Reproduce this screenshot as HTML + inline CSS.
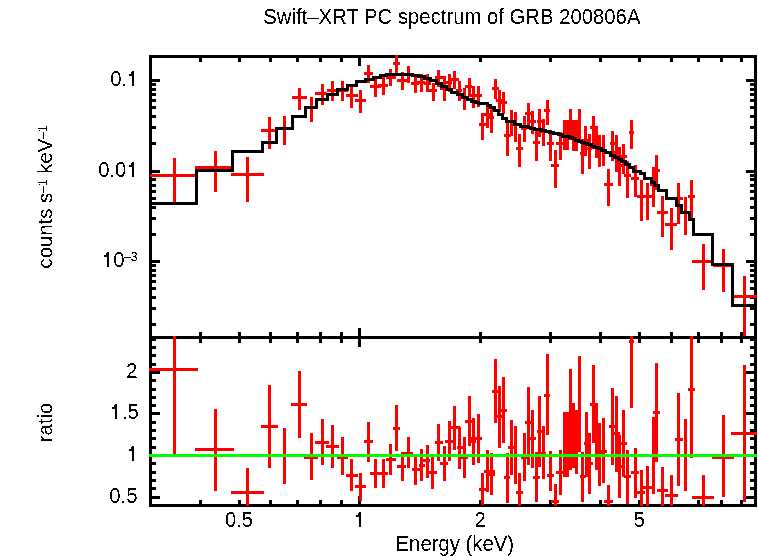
<!DOCTYPE html>
<html><head><meta charset="utf-8"><style>html,body{margin:0;padding:0;background:#fff;width:758px;height:556px;overflow:hidden}svg{display:block}</style></head>
<body><svg width="758" height="556" viewBox="0 0 758 556">
<rect width="758" height="556" fill="#fff"/>
<filter id="bin" x="0" y="0" width="758" height="556" filterUnits="userSpaceOnUse"><feComponentTransfer><feFuncA type="discrete" tableValues="0 1"/></feComponentTransfer></filter>
<g font-family="Liberation Sans, sans-serif" font-size="20.3" fill="#000" filter="url(#bin)">
<g transform="matrix(1 0 0 1.07 0 -1.659)"><text x="451.9" y="23.7" text-anchor="middle">Swift–XRT PC spectrum of GRB 200806A</text></g>
<g transform="matrix(1 0 0 1.07 0 -38.549)"><text x="454.8" y="550.7" text-anchor="middle">Energy (keV)</text></g>

<g transform="matrix(1 0 0 1.07 0 -6.020)"><text x="110.2" y="86">0.</text></g>
<g transform="matrix(1 0 0 1.07 0 -12.390)"><text x="98.2" y="177">0.0</text></g>
<g transform="matrix(1 0 0 1.07 0 -18.690)"><text x="113.2" y="267">0</text></g>
<g transform="matrix(1 0 0 1.07 0 -18.270)"><text x="124" y="261" font-size="12.2">–3</text></g>
<g transform="matrix(1 0 0 1.07 0 -26.460)"><text x="137.5" y="378" text-anchor="end">2</text></g>
<g transform="matrix(1 0 0 1.07 0 -29.330)"><text x="122" y="419">.5</text></g>
<g transform="matrix(1 0 0 1.07 0 -35.210)"><text x="137.5" y="503" text-anchor="end">0.5</text></g>
<g transform="matrix(1 0 0 1.07 0 -36.904)"><text x="239" y="527.2" text-anchor="middle">0.5</text></g>
<g transform="matrix(1 0 0 1.07 0 -36.904)"><text x="480.2" y="527.2" text-anchor="middle">2</text></g>
<g transform="matrix(1 0 0 1.07 0 -36.904)"><text x="639.5" y="527.2" text-anchor="middle">5</text></g>
<text transform="translate(51.6,196.8) rotate(-90)" text-anchor="middle">counts s<tspan font-size="12.2" dy="-5">–1</tspan><tspan dy="5"> keV</tspan><tspan font-size="12.2" dy="-5">–1</tspan></text>
<text transform="translate(52.1,422.4) rotate(-90)" text-anchor="middle">ratio</text>
<path d="M132 71h2V86h-2zM129 74h3v2h-3zM131 72h1v2h-1zM132 162h2V177h-2zM129 165h3v2h-3zM131 163h1v2h-1zM107 252h2V267h-2zM104 255h3v2h-3zM106 253h1v2h-1zM115 404h2V419h-2zM112 407h3v2h-3zM114 405h1v2h-1zM132 446h2V461h-2zM129 449h3v2h-3zM131 447h1v2h-1zM359 512h2V527h-2zM356 515h3v2h-3zM358 513h1v2h-1z" fill="#000" shape-rendering="crispEdges"/>

</g>
<path d="M149.00 56.50L757.00 56.50M149.00 337.50L757.00 337.50M149.00 505.50L757.00 505.50M150.50 56.50L150.50 505.50M755.50 56.50L755.50 505.50M200.23 56.50L200.23 62.00M200.23 332.00L200.23 343.00M200.23 500.00L200.23 505.50M239.04 56.50L239.04 62.00M239.04 332.00L239.04 343.00M239.04 500.00L239.04 505.50M270.75 56.50L270.75 62.00M270.75 332.00L270.75 343.00M270.75 500.00L270.75 505.50M297.56 56.50L297.56 62.00M297.56 332.00L297.56 343.00M297.56 500.00L297.56 505.50M320.79 56.50L320.79 62.00M320.79 332.00L320.79 343.00M320.79 500.00L320.79 505.50M341.27 56.50L341.27 62.00M341.27 332.00L341.27 343.00M341.27 500.00L341.27 505.50M359.60 56.50L359.60 66.00M359.60 328.00L359.60 347.00M359.60 496.00L359.60 505.50M480.16 56.50L480.16 62.00M480.16 332.00L480.16 343.00M480.16 500.00L480.16 505.50M550.69 56.50L550.69 62.00M550.69 332.00L550.69 343.00M550.69 500.00L550.69 505.50M600.73 56.50L600.73 62.00M600.73 332.00L600.73 343.00M600.73 500.00L600.73 505.50M639.54 56.50L639.54 62.00M639.54 332.00L639.54 343.00M639.54 500.00L639.54 505.50M671.25 56.50L671.25 62.00M671.25 332.00L671.25 343.00M671.25 500.00L671.25 505.50M698.06 56.50L698.06 62.00M698.06 332.00L698.06 343.00M698.06 500.00L698.06 505.50M721.29 56.50L721.29 62.00M721.29 332.00L721.29 343.00M721.29 500.00L721.29 505.50M741.77 56.50L741.77 62.00M741.77 332.00L741.77 343.00M741.77 500.00L741.77 505.50M150.50 324.76L156.00 324.76M750.00 324.76L755.50 324.76M150.50 308.82L156.00 308.82M750.00 308.82L755.50 308.82M150.50 297.51L156.00 297.51M750.00 297.51L755.50 297.51M150.50 288.74L156.00 288.74M750.00 288.74L755.50 288.74M150.50 281.58L156.00 281.58M750.00 281.58L755.50 281.58M150.50 275.52L156.00 275.52M750.00 275.52L755.50 275.52M150.50 270.27L156.00 270.27M750.00 270.27L755.50 270.27M150.50 265.64L156.00 265.64M750.00 265.64L755.50 265.64M150.50 261.50L160.00 261.50M746.00 261.50L755.50 261.50M150.50 234.26L156.00 234.26M750.00 234.26L755.50 234.26M150.50 218.32L156.00 218.32M750.00 218.32L755.50 218.32M150.50 207.01L156.00 207.01M750.00 207.01L755.50 207.01M150.50 198.24L156.00 198.24M750.00 198.24L755.50 198.24M150.50 191.08L156.00 191.08M750.00 191.08L755.50 191.08M150.50 185.02L156.00 185.02M750.00 185.02L755.50 185.02M150.50 179.77L156.00 179.77M750.00 179.77L755.50 179.77M150.50 175.14L156.00 175.14M750.00 175.14L755.50 175.14M150.50 171.00L160.00 171.00M746.00 171.00L755.50 171.00M150.50 143.76L156.00 143.76M750.00 143.76L755.50 143.76M150.50 127.82L156.00 127.82M750.00 127.82L755.50 127.82M150.50 116.51L156.00 116.51M750.00 116.51L755.50 116.51M150.50 107.74L156.00 107.74M750.00 107.74L755.50 107.74M150.50 100.58L156.00 100.58M750.00 100.58L755.50 100.58M150.50 94.52L156.00 94.52M750.00 94.52L755.50 94.52M150.50 89.27L156.00 89.27M750.00 89.27L755.50 89.27M150.50 84.64L156.00 84.64M750.00 84.64L755.50 84.64M150.50 80.50L160.00 80.50M746.00 80.50L755.50 80.50M150.50 497.05L160.00 497.05M746.00 497.05L755.50 497.05M150.50 488.74L156.00 488.74M750.00 488.74L755.50 488.74M150.50 480.43L156.00 480.43M750.00 480.43L755.50 480.43M150.50 472.12L156.00 472.12M750.00 472.12L755.50 472.12M150.50 463.81L156.00 463.81M750.00 463.81L755.50 463.81M150.50 455.50L160.00 455.50M746.00 455.50L755.50 455.50M150.50 447.19L156.00 447.19M750.00 447.19L755.50 447.19M150.50 438.88L156.00 438.88M750.00 438.88L755.50 438.88M150.50 430.57L156.00 430.57M750.00 430.57L755.50 430.57M150.50 422.26L156.00 422.26M750.00 422.26L755.50 422.26M150.50 413.95L160.00 413.95M746.00 413.95L755.50 413.95M150.50 405.64L156.00 405.64M750.00 405.64L755.50 405.64M150.50 397.33L156.00 397.33M750.00 397.33L755.50 397.33M150.50 389.02L156.00 389.02M750.00 389.02L755.50 389.02M150.50 380.71L156.00 380.71M750.00 380.71L755.50 380.71M150.50 372.40L160.00 372.40M746.00 372.40L755.50 372.40M150.50 364.09L156.00 364.09M750.00 364.09L755.50 364.09M150.50 355.78L156.00 355.78M750.00 355.78L755.50 355.78M150.50 347.47L156.00 347.47M750.00 347.47L755.50 347.47M150.50 339.16L156.00 339.16M750.00 339.16L755.50 339.16" stroke="#000" stroke-width="3" fill="none" shape-rendering="crispEdges"/>
<path d="M150.00 175.50H196.50M174.50 158.00V202.00M195.00 167.50H232.00M215.50 151.00V192.00M231.00 174.50H264.00M247.50 157.00V202.00M261.00 130.30H275.50M269.50 117.00V148.60M276.00 128.30H292.00M284.50 116.00V145.00M291.50 97.40H306.50M299.40 88.00V109.80M305.50 107.50H316.50M311.40 97.00V121.70M315.40 93.00H326.60M322.50 84.30V104.50M326.60 90.40H337.40M332.40 81.20V100.50M338.00 90.80H348.00M342.30 81.20V100.50M346.40 95.40H357.90M351.50 87.00V107.50M355.20 100.20H366.00M360.80 90.40V112.60M364.00 73.50H373.00M368.60 65.00V82.60M370.00 86.30H380.50M375.50 79.00V96.80M378.40 85.40H388.00M383.40 77.00V94.70M386.00 77.00H395.60M390.50 69.00V85.70M393.00 63.50H400.00M396.50 55.00V72.70M397.20 80.50H407.40M402.50 72.20V89.70M405.00 74.00H413.00M408.50 66.10V82.50M411.30 83.60H419.40M415.50 75.50V92.70M417.00 82.50H425.00M421.50 74.20V91.60M424.00 83.00H431.00M427.60 74.20V91.60M426.00 90.40H436.90M433.50 82.50V100.70M435.00 77.50H442.90M438.60 70.00V86.70M440.30 88.50H446.50M444.50 76.20V100.70M446.00 82.00H452.00M449.30 74.00V91.60M450.80 79.70H458.90M454.60 70.80V89.10M456.00 90.00H462.00M459.50 81.00V100.80M461.50 97.50H467.00M464.50 87.50V109.60M465.00 86.20H472.40M469.60 77.80V96.70M471.00 95.80H476.00M473.30 85.90V107.50M474.50 95.40H481.90M478.60 85.90V106.80M479.00 124.30H486.00M482.50 113.00V139.50M484.10 114.00H490.00M487.30 102.00V127.70M488.00 117.40H494.00M491.00 107.50V132.70M492.20 88.30H498.60M495.50 79.00V98.70M496.20 100.30H502.50M499.50 90.10V111.50M500.80 102.40H506.70M503.50 92.30V114.40M504.30 135.30H511.00M507.20 120.00V155.50M507.50 121.50H515.40M511.40 110.00V135.50M512.00 124.00H519.00M515.40 112.30V141.50M516.00 148.50H523.00M519.40 134.40V167.40M521.00 128.00H527.00M524.60 116.00V141.60M525.10 113.40H533.20M528.70 103.10V126.30M527.80 121.50H535.90M532.50 111.20V134.40M533.00 142.40H540.00M536.60 130.60V161.40M537.00 121.50H542.40M539.70 109.00V136.50M540.50 131.00H546.50M543.50 119.30V145.60M544.30 110.40H550.10M547.50 99.90V124.70M547.10 143.30H553.60M550.70 130.00V161.40M551.00 165.50H558.90M555.50 150.00V187.70M556.00 143.40H562.80M560.60 132.40V160.00M563.00 128.00H566.00M564.60 120.00V149.60M566.00 130.00H569.00M567.50 120.00V149.60M569.00 125.00H572.00M570.50 109.20V140.00M572.00 131.00H575.00M573.50 120.00V150.70M575.00 129.00H578.00M576.50 120.00V150.70M578.00 126.00H581.00M579.50 109.20V140.00M580.00 153.50H587.40M582.50 138.80V173.50M583.00 140.00H588.50M585.70 125.90V156.10M587.00 148.00H592.00M589.20 134.40V169.00M590.00 127.30H597.60M593.30 116.00V148.60M594.50 141.00H599.00M596.60 126.40V158.00M597.00 150.00H602.00M599.70 135.00V166.60M601.00 150.00H606.00M603.50 135.00V166.40M604.10 184.30H613.00M608.40 169.20V206.40M609.90 143.50H614.50M612.50 131.00V160.70M614.00 152.00H618.50M616.50 135.00V172.00M617.50 165.00H621.50M619.60 147.20V186.40M621.00 156.70H627.00M623.50 143.50V173.50M624.30 175.40H630.80M627.40 161.00V197.80M628.90 132.40H634.00M631.50 120.30V149.40M631.30 178.70H639.40M635.60 165.40V196.70M636.70 196.40H644.80M641.60 180.40V220.70M642.70 196.40H652.90M647.50 183.00V219.60M650.00 184.00H657.00M653.50 167.00V206.60M652.00 170.50H660.00M656.50 155.00V189.60M657.00 212.40H668.00M662.50 195.90V237.30M665.40 224.30H676.70M671.60 207.80V249.70M676.70 198.60H682.60M678.60 183.00V224.00M682.00 212.00H689.00M685.50 197.20V234.60M688.00 196.40H695.10M691.60 180.20V217.50M692.00 261.40H712.60M703.50 244.00V289.70M712.60 265.50H732.70M723.50 248.70V291.80M733.90 296.40H756.90M744.50 276.00V336.00M149.10 369.50H197.90M174.60 336.00V453.80M194.50 449.80H233.70M215.60 408.50V490.60M230.60 492.50H263.70M247.50 468.20V506.00M261.00 426.50H278.00M269.40 385.10V467.90M276.00 455.80H292.50M284.40 427.90V483.70M291.00 404.30H306.50M299.50 371.00V437.70M303.90 457.40H317.90M311.50 433.00V479.70M314.70 442.30H329.10M322.50 419.00V464.60M326.20 446.80H339.00M332.50 425.40V467.60M336.50 457.00H348.00M342.50 437.00V474.80M345.90 475.50H358.10M351.60 459.00V490.50M355.00 486.50H366.00M360.50 472.90V500.50M363.80 441.40H372.90M368.50 422.00V461.80M370.00 473.40H379.70M375.40 459.00V488.00M378.20 473.40H388.30M383.70 459.00V488.00M386.20 459.40H395.80M390.50 443.60V474.80M392.90 428.30H399.80M396.50 405.00V450.80M397.00 466.50H406.00M402.40 452.00V481.30M401.40 453.20H413.00M408.60 437.10V468.30M411.50 469.70H421.60M415.80 455.00V485.00M418.50 465.00H424.50M421.60 449.00V481.00M421.60 460.50H430.20M427.60 445.30V477.70M426.60 472.70H436.70M432.00 456.80V489.00M435.00 442.60H443.20M438.60 424.20V461.20M440.00 463.50H447.90M444.60 446.00V481.00M445.00 441.80H453.20M449.60 420.90V461.20M451.00 427.40H460.40M454.70 406.00V449.60M456.50 447.50H463.00M459.80 427.30V468.50M461.20 457.90H467.60M464.50 437.00V478.00M465.00 421.30H473.50M469.50 396.30V446.00M471.00 441.00H476.00M473.50 418.00V464.80M470.80 438.30H481.60M478.50 414.00V463.00M478.90 489.40H487.90M482.50 473.00V505.30M484.30 471.60H495.00M487.50 450.00V491.80M488.00 474.10H495.00M491.50 453.20V494.50M492.00 391.40H499.60M495.50 359.00V423.40M496.00 416.50H503.00M499.50 386.40V447.80M499.60 410.20H506.80M503.60 376.50V443.30M504.00 477.70H510.40M507.70 453.20V502.60M508.20 447.30H514.50M511.50 420.00V474.70M512.00 455.00H519.00M515.40 426.20V483.70M515.80 492.50H523.00M519.30 473.00V506.00M521.20 457.00H529.20M524.30 432.50V481.00M524.70 422.50H533.40M528.50 386.90V464.90M529.20 438.10H535.50M532.40 409.70V467.60M532.80 477.60H540.00M536.70 452.30V501.70M537.00 431.50H543.60M539.20 395.90V466.70M540.00 453.00H546.00M543.20 426.00V479.20M543.60 395.20H550.00M547.50 354.00V435.20M547.20 475.40H553.50M550.40 451.40V491.00M550.80 501.30H558.90M555.10 483.70V506.00M556.40 472.50H563.10M560.00 450.30V494.50M563.00 446.00H566.00M564.60 414.20V477.40M566.00 446.00H569.00M567.50 411.50V477.40M569.00 420.00H572.00M570.50 369.00V470.00M572.00 436.00H575.00M573.50 403.00V467.60M575.00 442.00H578.00M576.50 409.70V473.90M578.00 401.30H581.00M579.50 356.10V445.00M579.80 476.50H585.60M582.50 452.30V501.70M583.80 443.70H591.00M586.50 411.50V476.50M587.00 463.50H592.80M589.60 433.40V493.60M590.00 404.30H598.20M593.50 364.80V443.00M594.00 437.00H599.00M596.80 403.40V470.30M597.00 454.00H602.00M599.60 423.20V485.50M600.00 451.00H607.20M603.50 417.80V482.80M604.00 501.30H612.90M608.30 485.20V506.00M609.30 426.50H615.30M612.50 388.20V464.90M614.00 433.80H619.50M616.70 395.90V472.00M617.50 466.00H622.00M619.80 435.20V498.10M620.10 443.50H627.00M623.40 410.10V477.40M624.20 476.50H630.50M627.40 450.00V503.50M628.70 341.60H634.10M631.70 336.00V408.30M630.90 472.30H639.20M635.50 447.80V498.10M636.80 492.50H645.00M641.70 469.90V506.00M643.10 487.20H652.30M647.20 465.60V506.00M650.00 455.00H657.00M653.50 417.00V493.70M653.10 412.40H659.60M656.40 363.40V461.80M657.10 490.20H667.70M662.60 467.30V506.00M665.20 495.30H678.20M671.50 475.00V506.00M675.00 439.30H683.00M678.50 393.30V485.60M682.00 455.00H689.00M685.40 419.00V491.20M688.10 389.60H694.80M691.50 336.00V457.60M692.00 497.60H713.80M703.50 475.00V506.00M712.20 457.00H734.00M723.40 414.90V496.90M730.80 433.40H756.70M744.50 365.00V501.80" stroke="#f00" stroke-width="3" fill="none" shape-rendering="crispEdges"/>
<rect x="563" y="120" width="18" height="18" fill="#f00"/><rect x="563" y="412" width="18" height="40" fill="#f00"/>
<path d="M150.00 203.50L196.50 203.50L196.50 170.50L232.30 170.50L232.30 151.50L262.50 151.50L262.50 142.40L276.30 142.40L276.30 128.20L292.50 128.20L292.50 116.30L305.50 116.30L305.50 107.60L316.50 107.60L316.50 99.50L327.60 99.50L327.60 94.00L337.80 94.00L337.80 89.70L347.50 89.70L347.50 85.30L356.70 85.30L356.70 81.20L365.30 81.20L365.30 79.20L373.00 79.20L373.00 77.50L380.70 77.50L380.70 75.50L386.30 75.50L386.30 74.37L393.50 74.37L393.50 74.13L399.50 74.13L399.50 74.19L405.50 74.19L405.50 74.67L412.00 74.67L412.00 75.48L418.50 75.48L418.50 76.91L424.55 76.91L424.55 78.54L430.55 78.54L430.55 80.78L436.05 80.78L436.05 83.42L441.55 83.42L441.55 86.42L446.90 86.42L446.90 89.40L451.95 89.40L451.95 92.31L457.05 92.31L457.05 94.86L462.00 94.86L462.00 97.36L467.05 97.36L467.05 99.72L471.45 99.72L471.45 101.10L475.95 101.10L475.95 102.33L478.00 102.33L478.00 103.50L487.00 103.50L487.00 105.10L490.60 105.10L490.60 107.50L494.60 107.50L494.60 110.20L498.70 110.20L498.70 114.20L502.30 114.20L502.30 118.30L506.80 118.30L506.80 121.30L514.00 121.30L514.00 124.30L520.30 124.30L520.30 126.10L528.00 126.10L528.00 127.52L530.60 127.52L530.60 128.38L534.55 128.38L534.55 129.21L538.15 129.21L538.15 129.97L541.60 129.97L541.60 130.78L545.50 130.78L545.50 131.61L549.10 131.61L549.10 132.44L553.10 132.44L553.10 133.47L558.05 133.47L558.05 134.86L562.60 134.86L562.60 136.04L566.05 136.04L566.05 136.97L569.00 136.97L569.00 137.88L572.00 137.88L572.00 138.96L575.00 138.96L575.00 140.04L578.00 140.04L578.00 141.12L581.00 141.12L581.00 142.22L584.10 142.22L584.10 143.38L587.45 143.38L587.45 144.67L591.25 144.67L591.25 146.02L594.95 146.02L594.95 147.26L598.15 147.26L598.15 148.46L601.60 148.46L601.60 150.51L605.95 150.51L605.95 152.87L610.45 152.87L610.45 155.15L614.50 155.15L614.50 157.31L618.05 157.31L618.05 159.54L621.55 159.54L621.55 161.88L625.45 161.88L625.45 164.39L629.45 164.39L629.45 167.12L633.55 167.12L633.55 171.08L640.00 171.08L640.00 173.50L644.60 173.50L644.60 178.40L651.60 178.40L651.60 182.60L654.90 182.60L654.90 185.70L658.60 185.70L658.60 190.50L666.70 190.50L666.70 198.60L676.40 198.60L676.40 205.30L681.30 205.30L681.30 212.10L689.40 212.10L689.40 219.30L693.30 219.30L693.30 234.20L712.60 234.20L712.60 264.20L732.70 264.20L732.70 305.30L755.50 305.30" stroke="#000" stroke-width="3" fill="none" stroke-linejoin="miter" stroke-linecap="square" shape-rendering="crispEdges"/>
<path d="M149 455.50H757" stroke="#0f0" stroke-width="3" shape-rendering="crispEdges"/>
</svg></body></html>
